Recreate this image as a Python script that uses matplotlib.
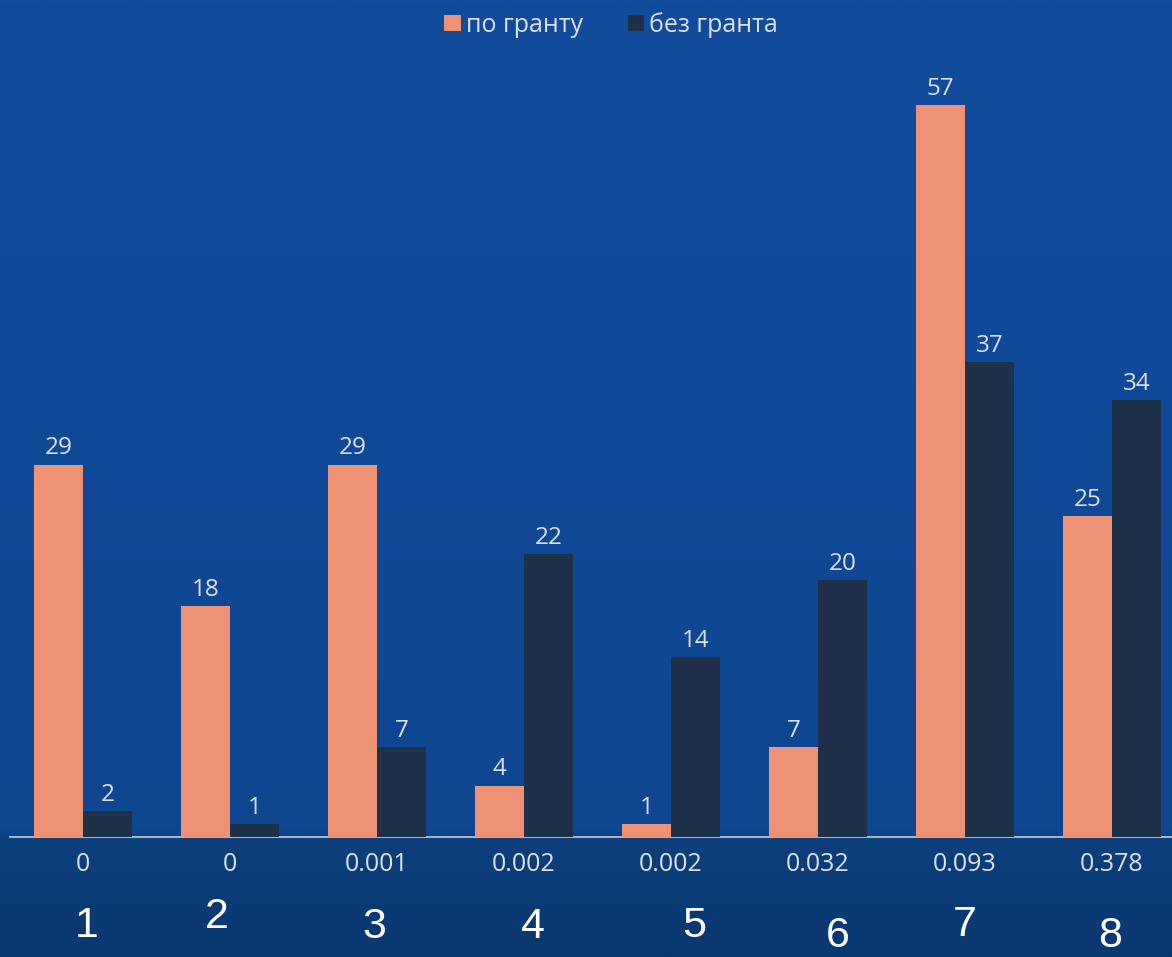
import matplotlib
matplotlib.use("Agg")
import matplotlib.pyplot as plt
import numpy as np
from matplotlib.colors import LinearSegmentedColormap

# ---- data ----
p_values = ["0", "0", "0.001", "0.002", "0.002", "0.032", "0.093", "0.378"]
group_numbers = ["1", "2", "3", "4", "5", "6", "7", "8"]
with_grant = [29, 18, 29, 4, 1, 7, 57, 25]
without_grant = [2, 1, 7, 22, 14, 20, 37, 34]
series_names = ["по гранту", "без гранта"]

# ---- style ----
W, H = 1172, 957
PINK = "#EE9276"
NAVY = "#1E3149"
TXT = "#DCE1EA"
FONT = ["Open Sans", "DejaVu Sans"]

fig = plt.figure(figsize=(W / 100, H / 100), dpi=100)

# background gradient
bg = fig.add_axes([0, 0, 1, 1], zorder=-10)
bg.axis("off")
cmap = LinearSegmentedColormap.from_list(
    "bgc",
    [(0.0, "#0A3870"), (0.12, "#0C3F7C"), (0.13, "#0F4690"),
     (0.6, "#11499A"), (1.0, "#134C9C")])
grad = np.linspace(0, 1, 400).reshape(-1, 1)
bg.imshow(grad, aspect="auto", cmap=cmap, origin="lower",
          extent=[0, 1, 0, 1])
bg.set_xlim(0, 1)
bg.set_ylim(0, 1)

# main axes (extends slightly past the right edge like the reference)
left = 9.5 / W
width = 8 * 147 / W
bottom = (H - 837) / H
top_px = 837 - 60 * (732 / 57)
height = (837 - top_px) / H
ax = fig.add_axes([left, bottom, width, height])
ax.patch.set_alpha(0)

x = np.arange(len(p_values))
bw = 0.333
b1 = ax.bar(x - bw / 2, with_grant, bw, color=PINK, label=series_names[0],
            zorder=3)
b2 = ax.bar(x + bw / 2, without_grant, bw, color=NAVY, label=series_names[1],
            zorder=3)

for bars, vals in ((b1, with_grant), (b2, without_grant)):
    for rect, v in zip(bars, vals):
        ax.annotate(str(v), (rect.get_x() + rect.get_width() / 2, v),
                    xytext=(0, 3), textcoords="offset points",
                    ha="center", va="bottom", color=TXT, fontsize=17.5,
                    family=FONT)

ax.set_xlim(-0.5, len(p_values) - 0.5)
ax.set_ylim(0, 60)
ax.set_xticks(x)
ax.set_xticklabels(p_values, color=TXT, fontsize=18, family=FONT)
ax.tick_params(axis="x", length=0, pad=11)
ax.set_yticks([])
for s in ("top", "right", "left"):
    ax.spines[s].set_visible(False)
ax.spines["bottom"].set_color("#C8CCD4")
ax.spines["bottom"].set_linewidth(1.2)

# group numbers under the axis (hand-placed on the slide)
num_pos_px = [(87, 926), (217, 917), (374, 927), (533, 927),
              (694, 926), (838, 936), (965, 925), (1110, 936)]
for lab, (px, py) in zip(group_numbers, num_pos_px):
    fig.text(px / W, 1 - py / H, lab, ha="center", va="center",
             color="white", fontsize=31, family=["Liberation Sans", "DejaVu Sans"])

leg = fig.legend(handles=[b1, b2], labels=series_names, loc="center",
                 bbox_to_anchor=(611 / W, 1 - 25 / H), ncol=2, frameon=False,
                 handlelength=0.65, handleheight=0.65, handletextpad=0.2,
                 columnspacing=1.8, prop={"family": FONT, "size": 18})
for t in leg.get_texts():
    t.set_color(TXT)

fig.savefig("out.png", dpi=100)
